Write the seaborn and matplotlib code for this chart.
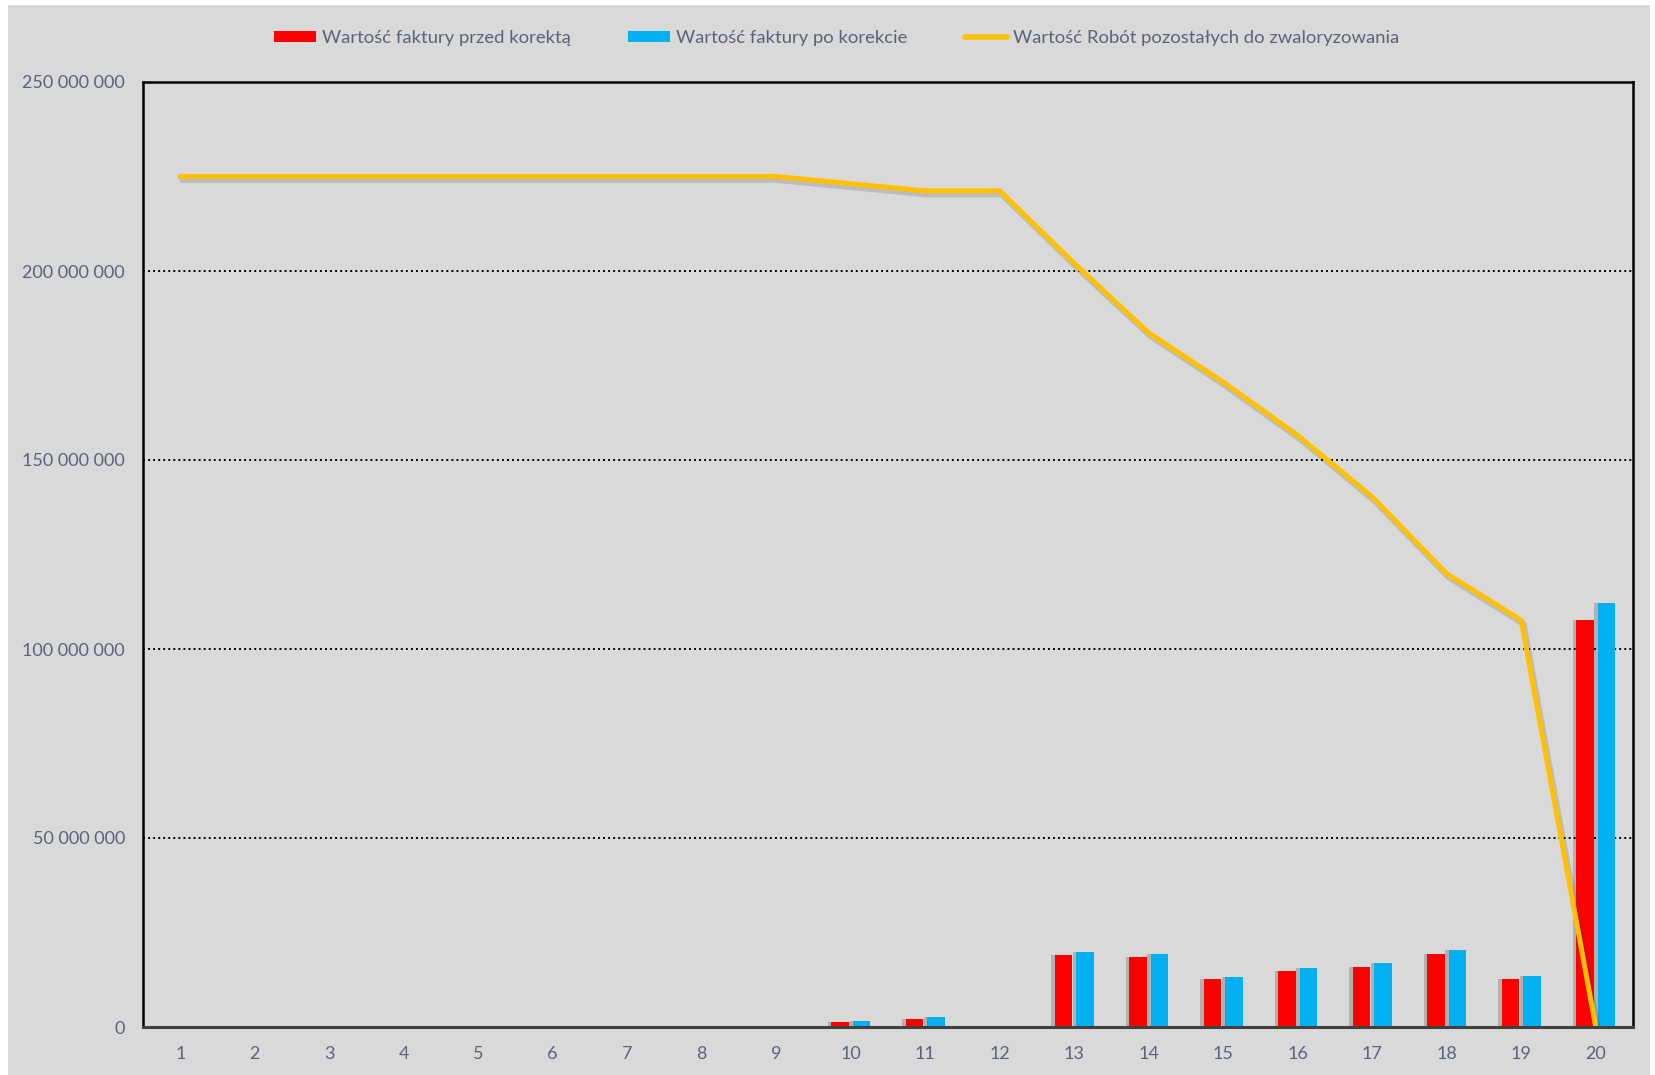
import numpy as np
import pandas as pd
import matplotlib
matplotlib.use('Agg')
import matplotlib.pyplot as plt
import matplotlib.patheffects as pe
from matplotlib.patches import Rectangle, Patch
from matplotlib.lines import Line2D
from matplotlib.ticker import FuncFormatter
import seaborn as sns

# dane
nr = list(range(1, 21))
przed_korekta = [0, 0, 0, 0, 0, 0, 0, 0, 0, 1.3e6, 2.2e6, 0, 19.0e6, 18.4e6, 12.8e6,
                 14.7e6, 15.9e6, 19.3e6, 12.8e6, 107.8e6]
po_korekcie = [0, 0, 0, 0, 0, 0, 0, 0, 0, 1.7e6, 2.6e6, 0, 19.8e6, 19.3e6, 13.3e6,
               15.5e6, 16.8e6, 20.5e6, 13.6e6, 112.3e6]
pozostale = [225e6, 225e6, 225e6, 225e6, 225e6, 225e6, 225e6, 225e6, 225e6, 223.1e6,
             221.2e6, 221.2e6, 202.0e6, 183.6e6, 170.6e6, 156.5e6, 140.2e6, 119.9e6,
             107.6e6, 0]
seria = ['Wartość faktury przed korektą', 'Wartość faktury po korekcie']
linia_nazwa = 'Wartość Robót pozostałych do zwaloryzowania'
kolory = ['#FF0000', '#00B0F0']
kolor_linii = '#FFC000'

df = pd.DataFrame({'nr': nr * 2,
                   'wartosc': przed_korekta + po_korekcie,
                   'seria': [seria[0]] * 20 + [seria[1]] * 20})

sns.set_theme(style='white')
plt.rcParams['font.family'] = ['Lato', 'DejaVu Sans']
txt_color = '#5a6378'
bg = '#D9D9D9'

fig = plt.figure(figsize=(16.56, 10.75), dpi=100, facecolor='white')
fig.patches.append(Rectangle((8 / 1656, 0), 1 - 14 / 1656, 1 - 5 / 1075,
                             transform=fig.transFigure, facecolor=bg,
                             edgecolor='none', zorder=-10))
ax = fig.add_axes([143 / 1656, 1 - 1027 / 1075, 1490 / 1656, 945 / 1075])
ax.set_facecolor(bg)

sns.barplot(data=df, x='nr', y='wartosc', hue='seria', palette=kolory,
            width=0.58, gap=0.2, saturation=1, linewidth=0, ax=ax,
            legend=False, zorder=3)
for bar in ax.patches:
    bar.set_path_effects([pe.SimplePatchShadow(offset=(-2.5, 0), alpha=0.18,
                                               shadow_rgbFace='black'), pe.Normal()])

sns.lineplot(x=np.arange(20), y=pozostale, color=kolor_linii, linewidth=3.6,
             ax=ax, zorder=4,
             path_effects=[pe.SimpleLineShadow(offset=(1.5, -2.5), alpha=0.15,
                                               linewidth=4.5),
                           pe.Normal()])
ax.lines[-1].set_solid_capstyle('round')

ax.set_xlim(-0.5, 19.5)
ax.set_ylim(0, 250e6)
ax.set_yticks(np.arange(0, 250e6 + 1, 50e6))
ax.yaxis.set_major_formatter(FuncFormatter(lambda v, p: f'{int(v):,}'.replace(',', ' ')))
for y in [50e6, 100e6, 150e6, 200e6]:
    ax.axhline(y, color='black', linestyle=(0, (1, 1.6)), linewidth=1.4, zorder=1)

ax.set_xlabel('')
ax.set_ylabel('')
ax.tick_params(axis='both', length=0, labelsize=13, colors=txt_color)
ax.tick_params(axis='y', pad=13)
ax.tick_params(axis='x', pad=14)

for s in ['left', 'top', 'right']:
    ax.spines[s].set_color('black')
    ax.spines[s].set_linewidth(1.8)
ax.spines['bottom'].set_color('#404040')
ax.spines['bottom'].set_linewidth(2.2)
ax.spines['bottom'].set_zorder(5)

handles = [Patch(facecolor=kolory[0], edgecolor='none'),
           Patch(facecolor=kolory[1], edgecolor='none'),
           Line2D([0], [0], color=kolor_linii, linewidth=4)]
leg = fig.legend(handles, seria + [linia_nazwa], loc='center',
                 bbox_to_anchor=(0.505, 1 - 38 / 1075), ncol=3, frameon=False,
                 handlelength=2.3, handleheight=0.58,
                 handletextpad=0.3, columnspacing=3.1,
                 prop={'family': ['Lato', 'DejaVu Sans'], 'size': 13.3})
for t in leg.get_texts():
    t.set_color(txt_color)

fig.savefig('out.png', dpi=100, facecolor=fig.get_facecolor())
